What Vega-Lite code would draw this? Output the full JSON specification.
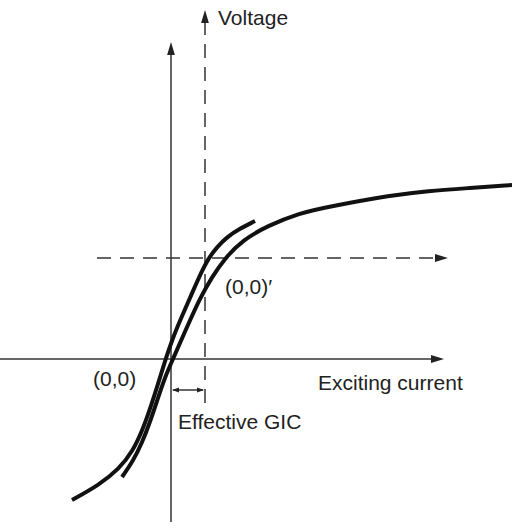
{
  "$schema": "https://vega.github.io/schema/vega-lite/v6.json",
  "width": 512,
  "height": 529,
  "padding": 0,
  "autosize": {"type": "none"},
  "background": "white",
  "config": {"view": {"stroke": null}},
  "datasets": {
    "solid": [
      {"x": 0, "x2": 0, "y": -163, "y2": 307},
      {"x": -171, "x2": 262, "y": 0, "y2": 0},
      {"x": 2, "x2": 32, "y": -31, "y2": -31}
    ],
    "dashed": [
      {"x": 34, "x2": 34, "y": -44, "y2": 340},
      {"x": -74, "x2": 268, "y": 101, "y2": 101}
    ],
    "upHeads": [{"x": 0, "y": 317}, {"x": 34, "y": 349}],
    "rightHeads": [{"x": 273, "y": 0}, {"x": 277, "y": 101}],
    "smallRight": [{"x": 33, "y": -31}],
    "smallLeft": [{"x": 1, "y": -31}],
    "curves": [
      {"series": "A", "o": 1, "x": -99, "y": -141},
      {"series": "A", "o": 2, "x": -72, "y": -126},
      {"series": "A", "o": 3, "x": -52, "y": -110},
      {"series": "A", "o": 4, "x": -38, "y": -92},
      {"series": "A", "o": 5, "x": -28, "y": -70},
      {"series": "A", "o": 6, "x": -20, "y": -47},
      {"series": "A", "o": 7, "x": -13, "y": -25},
      {"series": "A", "o": 8, "x": -6, "y": -2},
      {"series": "A", "o": 9, "x": 1, "y": 19},
      {"series": "A", "o": 10, "x": 11, "y": 43},
      {"series": "A", "o": 11, "x": 22, "y": 68},
      {"series": "A", "o": 12, "x": 30, "y": 86},
      {"series": "A", "o": 13, "x": 37, "y": 100},
      {"series": "A", "o": 14, "x": 46, "y": 112},
      {"series": "A", "o": 15, "x": 56, "y": 122},
      {"series": "A", "o": 16, "x": 68, "y": 130},
      {"series": "A", "o": 17, "x": 84, "y": 138},
      {"series": "B", "o": 1, "x": -49, "y": -118},
      {"series": "B", "o": 2, "x": -38, "y": -102},
      {"series": "B", "o": 3, "x": -29, "y": -84},
      {"series": "B", "o": 4, "x": -21, "y": -63},
      {"series": "B", "o": 5, "x": -14, "y": -42},
      {"series": "B", "o": 6, "x": -6, "y": -18},
      {"series": "B", "o": 7, "x": 2, "y": 0},
      {"series": "B", "o": 8, "x": 16, "y": 32},
      {"series": "B", "o": 9, "x": 29, "y": 61},
      {"series": "B", "o": 10, "x": 41, "y": 82},
      {"series": "B", "o": 11, "x": 54, "y": 101},
      {"series": "B", "o": 12, "x": 72, "y": 119},
      {"series": "B", "o": 13, "x": 96, "y": 133},
      {"series": "B", "o": 14, "x": 129, "y": 146},
      {"series": "B", "o": 15, "x": 156, "y": 152},
      {"series": "B", "o": 16, "x": 222, "y": 164},
      {"series": "B", "o": 17, "x": 256, "y": 168},
      {"series": "B", "o": 18, "x": 299, "y": 171},
      {"series": "B", "o": 19, "x": 341, "y": 174}
    ],
    "labels": [
      {"x": 47, "y": 334, "label": "Voltage"},
      {"x": -78, "y": -27, "label": "(0,0)"},
      {"x": 54, "y": 65, "label": "(0,0)′"},
      {"x": 147, "y": -31, "label": "Exciting current"},
      {"x": 7, "y": -70, "label": "Effective GIC"}
    ]
  },
  "layer": [
    {
      "data": {"name": "solid"},
      "mark": {"type": "rule", "color": "#333333", "strokeWidth": 1.5},
      "encoding": {
        "x": {"field": "x", "type": "quantitative", "scale": {"domain": [-171, 341], "nice": false, "zero": false}, "axis": null},
        "x2": {"field": "x2"},
        "y": {"field": "y", "type": "quantitative", "scale": {"domain": [-170, 359], "nice": false, "zero": false}, "axis": null},
        "y2": {"field": "y2"}
      }
    },
    {
      "data": {"name": "dashed"},
      "mark": {"type": "rule", "color": "#333333", "strokeWidth": 1.5, "strokeDash": [14, 9]},
      "encoding": {
        "x": {"field": "x", "type": "quantitative", "axis": null},
        "x2": {"field": "x2"},
        "y": {"field": "y", "type": "quantitative", "axis": null},
        "y2": {"field": "y2"}
      }
    },
    {
      "data": {"name": "upHeads"},
      "mark": {"type": "point", "shape": "M0,0L-2,-0.6L-2,0.6Z", "filled": true, "color": "#222222", "opacity": 1, "strokeWidth": 0, "size": 169, "angle": 270},
      "encoding": {
        "x": {"field": "x", "type": "quantitative", "axis": null},
        "y": {"field": "y", "type": "quantitative", "axis": null}
      }
    },
    {
      "data": {"name": "rightHeads"},
      "mark": {"type": "point", "shape": "M0,0L-2,-0.6L-2,0.6Z", "filled": true, "color": "#222222", "opacity": 1, "strokeWidth": 0, "size": 169, "angle": 0},
      "encoding": {
        "x": {"field": "x", "type": "quantitative", "axis": null},
        "y": {"field": "y", "type": "quantitative", "axis": null}
      }
    },
    {
      "data": {"name": "smallRight"},
      "mark": {"type": "point", "shape": "M0,0L-2,-0.7L-2,0.7Z", "filled": true, "color": "#222222", "opacity": 1, "strokeWidth": 0, "size": 49, "angle": 0},
      "encoding": {
        "x": {"field": "x", "type": "quantitative", "axis": null},
        "y": {"field": "y", "type": "quantitative", "axis": null}
      }
    },
    {
      "data": {"name": "smallLeft"},
      "mark": {"type": "point", "shape": "M0,0L-2,-0.7L-2,0.7Z", "filled": true, "color": "#222222", "opacity": 1, "strokeWidth": 0, "size": 49, "angle": 180},
      "encoding": {
        "x": {"field": "x", "type": "quantitative", "axis": null},
        "y": {"field": "y", "type": "quantitative", "axis": null}
      }
    },
    {
      "data": {"name": "curves"},
      "mark": {"type": "line", "color": "#111111", "strokeWidth": 4, "interpolate": "basis"},
      "encoding": {
        "x": {"field": "x", "type": "quantitative", "axis": null},
        "y": {"field": "y", "type": "quantitative", "axis": null},
        "detail": {"field": "series"},
        "order": {"field": "o", "type": "quantitative"}
      }
    },
    {
      "data": {"name": "labels"},
      "mark": {"type": "text", "align": "left", "baseline": "alphabetic", "font": "Liberation Sans", "fontSize": 21, "color": "#222222"},
      "encoding": {
        "x": {"field": "x", "type": "quantitative", "axis": null},
        "y": {"field": "y", "type": "quantitative", "axis": null},
        "text": {"field": "label"}
      }
    }
  ]
}
